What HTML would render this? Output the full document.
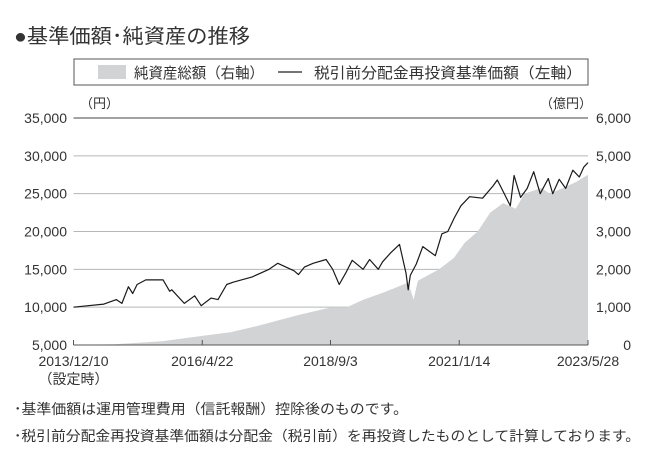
<!DOCTYPE html>
<html><head><meta charset="utf-8">
<style>
body{margin:0;background:#fff;width:670px;height:463px;overflow:hidden;font-family:"Liberation Sans","Noto Sans CJK JP",sans-serif;color:#231815}
svg{position:absolute;left:0;top:0}
text{font-family:"Liberation Sans","Noto Sans CJK JP",sans-serif;fill:#333}
</style></head>
<body>
<svg id="chart" width="670" height="463">
  <text x="14" y="43" font-size="20" fill="#231815" textLength="236" lengthAdjust="spacingAndGlyphs">●基準価額･純資産の推移</text>
  <rect x="74" y="59" width="514" height="26" fill="#fff" stroke="#555" stroke-width="1"/>
  <rect x="98" y="65" width="28" height="14" fill="#d2d3d5"/>
  <text x="134" y="78" font-size="15" textLength="130" lengthAdjust="spacingAndGlyphs">純資産総額（右軸）</text>
  <line x1="278" y1="72" x2="302" y2="72" stroke="#222" stroke-width="1.2"/>
  <text x="314" y="78" font-size="15" textLength="268" lengthAdjust="spacingAndGlyphs">税引前分配金再投資基準価額（左軸）</text>
  <text x="80" y="108" font-size="13">（円）</text>
  <text x="540" y="108" font-size="13">（億円）</text>
  <g id="grid"></g>
  <g id="marks"></g>
  <g id="axes"></g>
  <text x="14" y="414" font-size="14" fill="#231815" textLength="394" lengthAdjust="spacingAndGlyphs">･基準価額は運用管理費用（信託報酬）控除後のものです。</text>
  <text x="14" y="441" font-size="14" fill="#231815" textLength="626" lengthAdjust="spacingAndGlyphs">･税引前分配金再投資基準価額は分配金（税引前）を再投資したものとして計算しております。</text>
</svg>
<script>
const leftTicks=[5000,10000,15000,20000,25000,30000,35000];
const rightTicks=[0,1000,2000,3000,4000,5000,6000];
const xTickYears=[2013.94,2016.31,2018.67,2021.04,2023.41];
const xTickLabels=["2013/12/10","2016/4/22","2018/9/3","2021/1/14","2023/5/28"];
const priceYears=[2013.94,2014.5,2014.73,2014.83,2014.95,2015.03,2015.11,2015.27,2015.59,2015.71,2015.75,2015.98,2016.17,2016.29,2016.47,2016.6,2016.76,2016.88,2017.23,2017.54,2017.7,2018.0,2018.08,2018.19,2018.35,2018.59,2018.71,2018.83,2018.95,2019.07,2019.27,2019.39,2019.55,2019.63,2019.78,2019.94,2020.06,2020.1,2020.14,2020.25,2020.37,2020.6,2020.72,2020.83,2020.95,2021.07,2021.23,2021.47,2021.66,2021.74,2021.82,2021.98,2022.05,2022.17,2022.29,2022.41,2022.53,2022.68,2022.76,2022.88,2023.0,2023.13,2023.25,2023.33,2023.41];
const priceValues=[10000,10400,11000,10500,12700,11800,13000,13600,13600,12100,12300,10500,11500,10200,11200,11000,13000,13300,14000,15000,15800,14800,14300,15300,15800,16300,15000,13000,14500,16200,15000,16300,15000,16000,17200,18300,14500,12300,14200,15700,18000,16800,19700,20000,21800,23400,24600,24400,26000,26800,25700,23400,27400,24500,25700,27900,25000,27000,25000,26900,25700,28100,27200,28500,29100];
const aumYears=[2013.94,2014.71,2015.57,2016.31,2016.84,2017.31,2018.1,2018.69,2018.97,2019.28,2019.67,2020.1,2020.2,2020.28,2020.67,2020.94,2021.14,2021.38,2021.61,2021.85,2022.08,2022.24,2022.55,2022.71,2022.95,2023.18,2023.41];
const aumValues=[0,20,100,240,340,500,800,1000,1000,1200,1400,1650,1200,1700,2000,2300,2700,3000,3500,3750,3600,4000,4150,4000,4150,4300,4500];

const X0=73.5,X1=588,Y0=345,Y1=118,T0=2013.94,T1=2023.41;
const xs=t=>X0+(t-T0)/(T1-T0)*(X1-X0);
const yL=v=>Y0-(v-5000)/30000*(Y0-Y1);
const yR=v=>Y0-v/6000*(Y0-Y1);
const NS="http://www.w3.org/2000/svg";
function mk(tag,attrs,parent){const e=document.createElementNS(NS,tag);for(const k in attrs)e.setAttribute(k,attrs[k]);parent.appendChild(e);return e;}
const grid=document.getElementById('grid'),marks=document.getElementById('marks'),axes=document.getElementById('axes');

leftTicks.forEach((v,i)=>{
  const y=yL(v);
  if(v>5000){
    const l=mk('line',{x1:X0,x2:X1,y1:y,y2:y,stroke:v===35000?'#444':'#b5b6b8','stroke-width':1},grid);
    
    
  }
  const t=mk('text',{x:67,y:y+5,'text-anchor':'end','font-size':14},axes);
  t.textContent=v.toLocaleString('en-US');
  
  
});
rightTicks.forEach(v=>{
  const t=mk('text',{x:631,y:yR(v)+5,'text-anchor':'end','font-size':14},axes);
  t.textContent=v.toLocaleString('en-US');
  
  
});

let d='M'+xs(aumYears[0])+','+Y0;
aumYears.forEach((t,i)=>{d+=' L'+xs(t).toFixed(1)+','+yR(aumValues[i]).toFixed(1);});
d+=' L'+xs(aumYears[aumYears.length-1])+','+Y0+' Z';
const area=mk('path',{d:d,fill:'#d2d3d5'},marks);



let p='';
priceYears.forEach((t,i)=>{p+=(i?' L':'M')+xs(t).toFixed(1)+','+yL(priceValues[i]).toFixed(1);});
const line=mk('path',{d:p,fill:'none',stroke:'#1a1a1a','stroke-width':1.2,'stroke-linejoin':'round'},marks);



const ax=mk('line',{x1:X0,x2:X1,y1:Y0,y2:Y0,stroke:'#555','stroke-width':1},axes);


xTickYears.forEach((t,i)=>{
  const x=xs(t);
  const tk=mk('line',{x1:x,x2:x,y1:Y0,y2:Y0-5,stroke:'#555','stroke-width':1},axes);
  
  
  const lb=mk('text',{x:x,y:366,'text-anchor':'middle','font-size':14},axes);
  lb.textContent=xTickLabels[i];
  
  
});
const sub=mk('text',{x:xs(xTickYears[0]),y:384,'text-anchor':'middle','font-size':14},axes);
sub.textContent='（設定時）';


</script>
</body></html>
